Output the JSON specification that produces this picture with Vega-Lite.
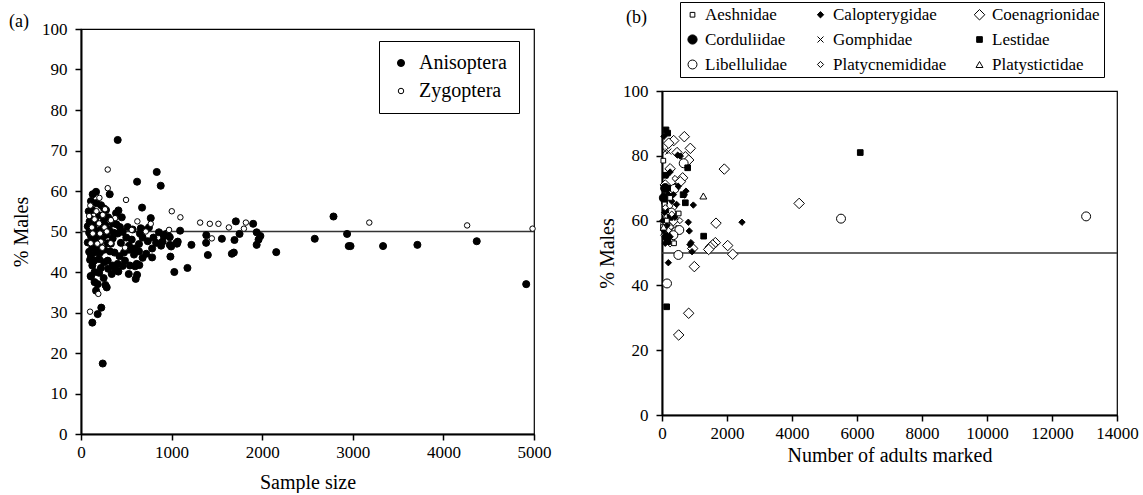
{
  "$schema": "https://vega.github.io/schema/vega-lite/v6.json",
  "background": "white",
  "padding": {"left": 8, "top": 0, "right": 2, "bottom": 0},
  "spacing": 44,
  "resolve": {
    "scale": {"fill": "independent", "size": "independent", "shape": "independent", "stroke": "independent"},
    "legend": {"fill": "independent", "size": "independent", "shape": "independent", "stroke": "independent"}
  },
  "config": {
    "font": "Liberation Serif",
    "view": {"stroke": "black", "strokeWidth": 1.2},
    "axis": {
      "labelFont": "Liberation Serif", "labelFontSize": 17, "labelColor": "black",
      "titleFont": "Liberation Serif", "titleFontSize": 20, "titleFontWeight": "normal", "titleColor": "black",
      "domainColor": "black", "domainWidth": 2, "tickColor": "black", "tickWidth": 1.5, "tickSize": 6,
      "grid": false, "labelFlush": false, "labelOverlap": false
    },
    "axisX": {"labelPadding": 4},
    "axisY": {"labelPadding": 8, "titlePadding": 10},
    "legend": {"labelFont": "Liberation Serif", "labelColor": "black", "strokeColor": "black", "fillColor": "white", "symbolStrokeWidth": 1},
    "title": {"font": "Liberation Serif", "fontSize": 18, "fontWeight": "normal", "color": "black"}
  },
  "hconcat": [
    {
      "width": 453,
      "height": 405,
      "title": {"text": "(a)", "anchor": "start", "frame": "group", "dx": -72, "dy": 8, "offset": -3},
      "layer": [
        {
          "data": {"values": [{"ref": 50}]},
          "mark": {"type": "rule", "color": "#333333", "strokeWidth": 1.5},
          "encoding": {
            "y": {"field": "ref", "type": "quantitative", "title": "% Males", "scale": {"domain": [0, 100]}}
          }
        },
        {
          "data": {"values": [
            {"n":1030,"m":40.0,"g":"Anisoptera"},{"n":1175,"m":41.0,"g":"Anisoptera"},{"n":1219,"m":46.7,"g":"Anisoptera"},{"n":1383,"m":49.1,"g":"Anisoptera"},{"n":1381,"m":47.2,"g":"Anisoptera"},{"n":1400,"m":44.2,"g":"Anisoptera"},{"n":1555,"m":48.2,"g":"Anisoptera"},{"n":1694,"m":47.9,"g":"Anisoptera"},{"n":1687,"m":44.8,"g":"Anisoptera"},{"n":1665,"m":44.5,"g":"Anisoptera"},{"n":1750,"m":49.4,"g":"Anisoptera"},{"n":1709,"m":52.5,"g":"Anisoptera"},{"n":1900,"m":51.9,"g":"Anisoptera"},{"n":1939,"m":49.8,"g":"Anisoptera"},{"n":1980,"m":48.9,"g":"Anisoptera"},{"n":1960,"m":48.0,"g":"Anisoptera"},{"n":1939,"m":46.7,"g":"Anisoptera"},{"n":2155,"m":44.9,"g":"Anisoptera"},{"n":2580,"m":48.2,"g":"Anisoptera"},{"n":2787,"m":53.7,"g":"Anisoptera"},{"n":2937,"m":49.4,"g":"Anisoptera"},{"n":2955,"m":46.4,"g":"Anisoptera"},{"n":2975,"m":46.4,"g":"Anisoptera"},{"n":3334,"m":46.4,"g":"Anisoptera"},{"n":3713,"m":46.7,"g":"Anisoptera"},{"n":4368,"m":47.6,"g":"Anisoptera"},{"n":4914,"m":37.0,"g":"Anisoptera"},{"n":1068,"m":47.5,"g":"Anisoptera"},{"n":1094,"m":50.2,"g":"Anisoptera"},{"n":1060,"m":47.0,"g":"Anisoptera"},{"n":995,"m":46.3,"g":"Anisoptera"},{"n":1050,"m":47.1,"g":"Anisoptera"},
            {"n":836,"m":64.7,"g":"Anisoptera"},{"n":619,"m":62.3,"g":"Anisoptera"},{"n":880,"m":61.3,"g":"Anisoptera"},{"n":674,"m":55.9,"g":"Anisoptera"},{"n":770,"m":53.3,"g":"Anisoptera"},{"n":980,"m":46.7,"g":"Anisoptera"},{"n":987,"m":43.8,"g":"Anisoptera"},{"n":785,"m":45.8,"g":"Anisoptera"},{"n":785,"m":43.6,"g":"Anisoptera"},{"n":619,"m":39.3,"g":"Anisoptera"},{"n":604,"m":38.3,"g":"Anisoptera"},{"n":597,"m":41.4,"g":"Anisoptera"},{"n":644,"m":41.7,"g":"Anisoptera"},{"n":914,"m":48.9,"g":"Anisoptera"},{"n":940,"m":49.4,"g":"Anisoptera"},{"n":980,"m":48.6,"g":"Anisoptera"},{"n":884,"m":46.5,"g":"Anisoptera"},{"n":829,"m":47.2,"g":"Anisoptera"},{"n":800,"m":48.5,"g":"Anisoptera"},{"n":737,"m":47.6,"g":"Anisoptera"},{"n":680,"m":48.5,"g":"Anisoptera"},{"n":640,"m":46.9,"g":"Anisoptera"},{"n":640,"m":45.1,"g":"Anisoptera"},{"n":615,"m":42.0,"g":"Anisoptera"},{"n":700,"m":50.3,"g":"Anisoptera"},{"n":750,"m":51.0,"g":"Anisoptera"},{"n":660,"m":50.8,"g":"Anisoptera"},{"n":860,"m":49.8,"g":"Anisoptera"},{"n":960,"m":49.1,"g":"Anisoptera"},{"n":900,"m":47.5,"g":"Anisoptera"},{"n":720,"m":44.5,"g":"Anisoptera"},{"n":680,"m":43.5,"g":"Anisoptera"},{"n":650,"m":49.5,"g":"Anisoptera"},
            {"n":405,"m":72.6,"g":"Anisoptera"},{"n":166,"m":59.8,"g":"Anisoptera"},{"n":129,"m":59.2,"g":"Anisoptera"},{"n":317,"m":59.2,"g":"Anisoptera"},{"n":221,"m":56.5,"g":"Anisoptera"},{"n":413,"m":55.2,"g":"Anisoptera"},{"n":387,"m":54.5,"g":"Anisoptera"},{"n":276,"m":55.3,"g":"Anisoptera"},{"n":125,"m":55.3,"g":"Anisoptera"},{"n":254,"m":55.7,"g":"Anisoptera"},{"n":339,"m":39.5,"g":"Anisoptera"},{"n":250,"m":38.5,"g":"Anisoptera"},{"n":110,"m":38.9,"g":"Anisoptera"},{"n":125,"m":27.5,"g":"Anisoptera"},{"n":184,"m":29.6,"g":"Anisoptera"},{"n":224,"m":31.2,"g":"Anisoptera"},{"n":166,"m":35.4,"g":"Anisoptera"},{"n":184,"m":37.0,"g":"Anisoptera"},{"n":269,"m":36.8,"g":"Anisoptera"},{"n":284,"m":36.2,"g":"Anisoptera"},{"n":240,"m":17.4,"g":"Anisoptera"},{"n":107,"m":39.0,"g":"Anisoptera"},{"n":412,"m":40.1,"g":"Anisoptera"},{"n":527,"m":39.5,"g":"Anisoptera"},{"n":589,"m":45.8,"g":"Anisoptera"},{"n":530,"m":46.5,"g":"Anisoptera"},{"n":500,"m":48.5,"g":"Anisoptera"},{"n":460,"m":49.9,"g":"Anisoptera"},{"n":515,"m":51.1,"g":"Anisoptera"},{"n":430,"m":51.1,"g":"Anisoptera"},{"n":405,"m":49.5,"g":"Anisoptera"},{"n":350,"m":48.3,"g":"Anisoptera"},{"n":295,"m":47.1,"g":"Anisoptera"},{"n":240,"m":48.5,"g":"Anisoptera"},{"n":210,"m":47.3,"g":"Anisoptera"},{"n":160,"m":48.5,"g":"Anisoptera"},{"n":110,"m":48.9,"g":"Anisoptera"},{"n":125,"m":46.1,"g":"Anisoptera"},{"n":160,"m":45.8,"g":"Anisoptera"},{"n":210,"m":44.8,"g":"Anisoptera"},{"n":255,"m":45.5,"g":"Anisoptera"},{"n":320,"m":45.1,"g":"Anisoptera"},{"n":370,"m":44.8,"g":"Anisoptera"},{"n":425,"m":43.9,"g":"Anisoptera"},{"n":475,"m":44.8,"g":"Anisoptera"},{"n":530,"m":45.5,"g":"Anisoptera"},{"n":585,"m":44.3,"g":"Anisoptera"},{"n":110,"m":44.0,"g":"Anisoptera"},{"n":145,"m":42.8,"g":"Anisoptera"},{"n":200,"m":43.2,"g":"Anisoptera"},{"n":255,"m":42.4,"g":"Anisoptera"},{"n":295,"m":42.8,"g":"Anisoptera"},{"n":350,"m":41.6,"g":"Anisoptera"},{"n":405,"m":42.0,"g":"Anisoptera"},{"n":385,"m":40.5,"g":"Anisoptera"},{"n":485,"m":42.8,"g":"Anisoptera"},{"n":540,"m":41.6,"g":"Anisoptera"},{"n":125,"m":41.6,"g":"Anisoptera"},{"n":165,"m":44.8,"g":"Anisoptera"},{"n":75,"m":47.3,"g":"Anisoptera"},{"n":90,"m":49.7,"g":"Anisoptera"},{"n":75,"m":51.3,"g":"Anisoptera"},{"n":100,"m":50.5,"g":"Anisoptera"},{"n":140,"m":51.5,"g":"Anisoptera"},{"n":180,"m":50.2,"g":"Anisoptera"},{"n":230,"m":50.8,"g":"Anisoptera"},{"n":270,"m":51.6,"g":"Anisoptera"},{"n":310,"m":50.4,"g":"Anisoptera"},{"n":360,"m":49.7,"g":"Anisoptera"},{"n":390,"m":51.8,"g":"Anisoptera"},{"n":120,"m":53.0,"g":"Anisoptera"},{"n":160,"m":52.5,"g":"Anisoptera"},{"n":200,"m":54.0,"g":"Anisoptera"},{"n":300,"m":53.5,"g":"Anisoptera"},{"n":350,"m":52.0,"g":"Anisoptera"},{"n":450,"m":53.5,"g":"Anisoptera"},{"n":90,"m":45.0,"g":"Anisoptera"},{"n":100,"m":43.0,"g":"Anisoptera"},{"n":140,"m":47.5,"g":"Anisoptera"},{"n":190,"m":46.5,"g":"Anisoptera"},{"n":280,"m":49.2,"g":"Anisoptera"},{"n":330,"m":47.0,"g":"Anisoptera"},{"n":440,"m":47.2,"g":"Anisoptera"},{"n":560,"m":48.0,"g":"Anisoptera"},{"n":570,"m":50.5,"g":"Anisoptera"},{"n":150,"m":40.0,"g":"Anisoptera"},{"n":200,"m":39.8,"g":"Anisoptera"},{"n":95,"m":52.5,"g":"Anisoptera"},{"n":85,"m":55.0,"g":"Anisoptera"},{"n":110,"m":57.5,"g":"Anisoptera"},{"n":170,"m":57.0,"g":"Anisoptera"},{"n":250,"m":52.5,"g":"Anisoptera"},{"n":220,"m":41.0,"g":"Anisoptera"},{"n":300,"m":40.8,"g":"Anisoptera"},{"n":460,"m":41.5,"g":"Anisoptera"},{"n":150,"m":37.5,"g":"Anisoptera"},
            {"n":295,"m":65.3,"g":"Zygoptera"},{"n":295,"m":60.7,"g":"Zygoptera"},{"n":203,"m":58.3,"g":"Zygoptera"},{"n":497,"m":57.8,"g":"Zygoptera"},{"n":103,"m":56.4,"g":"Zygoptera"},{"n":240,"m":54.1,"g":"Zygoptera"},{"n":1002,"m":55.0,"g":"Zygoptera"},{"n":1097,"m":53.5,"g":"Zygoptera"},{"n":622,"m":52.5,"g":"Zygoptera"},{"n":770,"m":51.9,"g":"Zygoptera"},{"n":376,"m":53.3,"g":"Zygoptera"},{"n":1315,"m":52.2,"g":"Zygoptera"},{"n":1422,"m":51.9,"g":"Zygoptera"},{"n":1517,"m":51.9,"g":"Zygoptera"},{"n":1632,"m":51.0,"g":"Zygoptera"},{"n":1820,"m":52.2,"g":"Zygoptera"},{"n":1798,"m":50.7,"g":"Zygoptera"},{"n":1444,"m":48.3,"g":"Zygoptera"},{"n":3182,"m":52.2,"g":"Zygoptera"},{"n":4262,"m":51.5,"g":"Zygoptera"},{"n":4984,"m":50.7,"g":"Zygoptera"},{"n":100,"m":30.2,"g":"Zygoptera"},{"n":191,"m":34.6,"g":"Zygoptera"},{"n":107,"m":47.1,"g":"Zygoptera"},{"n":218,"m":47.5,"g":"Zygoptera"},{"n":235,"m":46.0,"g":"Zygoptera"},{"n":328,"m":47.1,"g":"Zygoptera"},{"n":486,"m":46.0,"g":"Zygoptera"},{"n":715,"m":50.0,"g":"Zygoptera"},{"n":972,"m":50.4,"g":"Zygoptera"},{"n":150,"m":53.0,"g":"Zygoptera"},{"n":200,"m":52.0,"g":"Zygoptera"},{"n":260,"m":51.0,"g":"Zygoptera"},{"n":120,"m":51.0,"g":"Zygoptera"},{"n":170,"m":55.0,"g":"Zygoptera"},{"n":265,"m":55.5,"g":"Zygoptera"},{"n":210,"m":49.5,"g":"Zygoptera"},{"n":130,"m":49.5,"g":"Zygoptera"},{"n":330,"m":52.8,"g":"Zygoptera"},{"n":560,"m":50.4,"g":"Zygoptera"},{"n":90,"m":53.8,"g":"Zygoptera"},{"n":180,"m":47.0,"g":"Zygoptera"},{"n":285,"m":50.0,"g":"Zygoptera"}
          ]},
          "mark": {"type": "point", "shape": "circle", "filled": true, "strokeWidth": 1, "opacity": 1},
          "encoding": {
            "x": {"field": "n", "type": "quantitative", "title": "Sample size",
                  "scale": {"domain": [0, 5000], "nice": false},
                  "axis": {"values": [0, 1000, 2000, 3000, 4000, 5000], "format": "d", "titlePadding": 12}},
            "y": {"field": "m", "type": "quantitative", "title": "% Males",
                  "scale": {"domain": [0, 100]},
                  "axis": {"values": [0, 10, 20, 30, 40, 50, 60, 70, 80, 90, 100]}},
            "fill": {"field": "g", "type": "nominal",
                     "scale": {"domain": ["Anisoptera", "Zygoptera"], "range": ["black", "white"]},
                     "legend": {"title": null, "orient": "none", "legendX": 298, "legendY": 12, "labelFontSize": 20, "padding": 12, "rowPadding": 8, "labelOffset": 8, "strokeColor": "black"}},
            "stroke": {"field": "g", "type": "nominal",
                       "scale": {"domain": ["Anisoptera", "Zygoptera"], "range": ["black", "black"]}},
            "size": {"field": "g", "type": "nominal",
                     "scale": {"type": "ordinal", "domain": ["Anisoptera", "Zygoptera"], "range": [50, 30]}}
          }
        }
      ]
    },
    {
      "spacing": 2,
      "bounds": "flush",
      "resolve": {
        "scale": {"fill": "independent", "size": "independent", "shape": "independent", "stroke": "independent"},
        "legend": {"fill": "independent", "size": "independent", "shape": "independent", "stroke": "independent"}
      },
      "vconcat": [
        {
          "width": 455,
          "height": 60,
          "view": {"stroke": null, "fill": null},
          "title": {"text": "(b)", "anchor": "start", "frame": "group", "dx": -36, "offset": 2},
          "data": {"values": [{"ref": 50}]},
          "mark": {"type": "point", "opacity": 0},
          "encoding": {}
        },
        {
          "width": 455,
          "height": 324,
          "layer": [
            {
              "data": {"values": [{"ref": 50}]},
              "mark": {"type": "rule", "color": "#333333", "strokeWidth": 1.5},
              "encoding": {
                "y": {"field": "ref", "type": "quantitative", "title": "% Males", "scale": {"domain": [0, 100]}}
              }
            },
            {
              "data": {"values": [
                {"n":687,"m":85.9,"f":"Coenagrionidae"},{"n":360,"m":84.7,"f":"Coenagrionidae"},{"n":206,"m":83.9,"f":"Coenagrionidae"},{"n":871,"m":82.3,"f":"Coenagrionidae"},{"n":462,"m":81.0,"f":"Coenagrionidae"},{"n":718,"m":79.7,"f":"Coenagrionidae"},{"n":821,"m":78.7,"f":"Coenagrionidae"},{"n":1917,"m":75.9,"f":"Coenagrionidae"},{"n":636,"m":73.2,"f":"Coenagrionidae"},{"n":564,"m":72.0,"f":"Coenagrionidae"},{"n":400,"m":70.0,"f":"Coenagrionidae"},{"n":4220,"m":65.3,"f":"Coenagrionidae"},{"n":1662,"m":59.2,"f":"Coenagrionidae"},{"n":2021,"m":52.3,"f":"Coenagrionidae"},{"n":2175,"m":49.6,"f":"Coenagrionidae"},{"n":1641,"m":53.2,"f":"Coenagrionidae"},{"n":1559,"m":52.5,"f":"Coenagrionidae"},{"n":1487,"m":51.8,"f":"Coenagrionidae"},{"n":1436,"m":51.1,"f":"Coenagrionidae"},{"n":944,"m":51.4,"f":"Coenagrionidae"},{"n":995,"m":45.8,"f":"Coenagrionidae"},{"n":821,"m":31.4,"f":"Coenagrionidae"},{"n":513,"m":24.7,"f":"Coenagrionidae"},{"n":250,"m":53.5,"f":"Coenagrionidae"},{"n":150,"m":62.0,"f":"Coenagrionidae"},{"n":300,"m":64.0,"f":"Coenagrionidae"},{"n":200,"m":58.0,"f":"Coenagrionidae"},{"n":350,"m":60.0,"f":"Coenagrionidae"},{"n":450,"m":57.0,"f":"Coenagrionidae"},{"n":100,"m":71.0,"f":"Coenagrionidae"},{"n":150,"m":66.0,"f":"Coenagrionidae"},{"n":250,"m":76.0,"f":"Coenagrionidae"},{"n":120,"m":55.5,"f":"Coenagrionidae"},
                {"n":667,"m":77.7,"f":"Libellulidae"},{"n":380,"m":69.8,"f":"Libellulidae"},{"n":280,"m":62.5,"f":"Libellulidae"},{"n":533,"m":57.1,"f":"Libellulidae"},{"n":503,"m":49.4,"f":"Libellulidae"},{"n":154,"m":40.6,"f":"Libellulidae"},{"n":5508,"m":60.6,"f":"Libellulidae"},{"n":13050,"m":61.3,"f":"Libellulidae"},{"n":200,"m":65.0,"f":"Libellulidae"},{"n":100,"m":59.0,"f":"Libellulidae"},{"n":350,"m":55.5,"f":"Libellulidae"},
                {"n":100,"m":70.0,"f":"Corduliidae"},{"n":150,"m":55.0,"f":"Corduliidae"},{"n":60,"m":67.0,"f":"Corduliidae"},
                {"n":60,"m":86.0,"f":"Calopterygidae"},{"n":564,"m":79.9,"f":"Calopterygidae"},{"n":483,"m":80.2,"f":"Calopterygidae"},{"n":150,"m":74.0,"f":"Calopterygidae"},{"n":500,"m":70.6,"f":"Calopterygidae"},{"n":738,"m":69.1,"f":"Calopterygidae"},{"n":687,"m":67.9,"f":"Calopterygidae"},{"n":964,"m":64.8,"f":"Calopterygidae"},{"n":2462,"m":59.5,"f":"Calopterygidae"},{"n":810,"m":59.5,"f":"Calopterygidae"},{"n":840,"m":56.8,"f":"Calopterygidae"},{"n":892,"m":53.2,"f":"Calopterygidae"},{"n":923,"m":50.4,"f":"Calopterygidae"},{"n":195,"m":47.0,"f":"Calopterygidae"},{"n":100,"m":53.0,"f":"Calopterygidae"},{"n":860,"m":52.6,"f":"Calopterygidae"},{"n":250,"m":75.0,"f":"Calopterygidae"},{"n":200,"m":68.0,"f":"Calopterygidae"},{"n":120,"m":63.0,"f":"Calopterygidae"},{"n":300,"m":66.0,"f":"Calopterygidae"},{"n":400,"m":61.0,"f":"Calopterygidae"},{"n":150,"m":58.5,"f":"Calopterygidae"},{"n":50,"m":57.0,"f":"Calopterygidae"},{"n":350,"m":68.0,"f":"Calopterygidae"},{"n":450,"m":65.0,"f":"Calopterygidae"},{"n":30,"m":60.0,"f":"Calopterygidae"},{"n":80,"m":62.5,"f":"Calopterygidae"},{"n":250,"m":55.0,"f":"Calopterygidae"},
                {"n":123,"m":88.0,"f":"Lestidae"},{"n":175,"m":87.0,"f":"Lestidae"},{"n":790,"m":76.3,"f":"Lestidae"},{"n":175,"m":70.0,"f":"Lestidae"},{"n":650,"m":68.0,"f":"Lestidae"},{"n":718,"m":65.5,"f":"Lestidae"},{"n":1282,"m":55.2,"f":"Lestidae"},{"n":144,"m":33.4,"f":"Lestidae"},{"n":175,"m":53.5,"f":"Lestidae"},{"n":6100,"m":81.0,"f":"Lestidae"},{"n":100,"m":74.0,"f":"Lestidae"},{"n":250,"m":61.0,"f":"Lestidae"},{"n":80,"m":66.0,"f":"Lestidae"},
                {"n":40,"m":78.5,"f":"Aeshnidae"},{"n":370,"m":53.0,"f":"Aeshnidae"},{"n":513,"m":62.2,"f":"Aeshnidae"},{"n":150,"m":60.0,"f":"Aeshnidae"},{"n":250,"m":67.0,"f":"Aeshnidae"},{"n":30,"m":58.0,"f":"Aeshnidae"},{"n":80,"m":65.0,"f":"Aeshnidae"},
                {"n":195,"m":81.3,"f":"Gomphidae"},{"n":100,"m":81.5,"f":"Gomphidae"},{"n":150,"m":63.0,"f":"Gomphidae"},
                {"n":300,"m":62.0,"f":"Platycnemididae"},{"n":200,"m":57.0,"f":"Platycnemididae"},{"n":400,"m":73.0,"f":"Platycnemididae"},{"n":550,"m":60.0,"f":"Platycnemididae"},{"n":100,"m":64.0,"f":"Platycnemididae"},
                {"n":1272,"m":67.6,"f":"Platystictidae"},{"n":50,"m":58.0,"f":"Platystictidae"}
              ]},
              "mark": {"type": "point", "filled": true, "strokeWidth": 1, "opacity": 1},
              "encoding": {
                "x": {"field": "n", "type": "quantitative", "title": "Number of adults marked",
                      "scale": {"domain": [0, 14000], "nice": false},
                      "axis": {"values": [0, 2000, 4000, 6000, 8000, 10000, 12000, 14000], "format": "d", "titlePadding": 4}},
                "y": {"field": "m", "type": "quantitative", "title": "% Males",
                      "scale": {"domain": [0, 100]},
                      "axis": {"values": [0, 10, 20, 30, 40, 50, 60, 70, 80, 90, 100], "titlePadding": 5}},
                "shape": {"field": "f", "type": "nominal",
                          "scale": {"domain": ["Aeshnidae", "Calopterygidae", "Coenagrionidae", "Corduliidae", "Gomphidae", "Lestidae", "Libellulidae", "Platycnemididae", "Platystictidae"],
                                    "range": ["square", "diamond", "diamond", "circle", "M-1,-1L1,1M-1,1L1,-1", "square", "circle", "diamond", "triangle-up"]},
                          "legend": {"title": null, "orient": "none", "legendX": 18, "legendY": -89, "columns": 3, "direction": "horizontal", "labelFontSize": 17, "padding": 4, "rowPadding": 7, "columnPadding": 24, "labelOffset": 4, "strokeColor": "black"}},
                "fill": {"field": "f", "type": "nominal",
                         "scale": {"domain": ["Aeshnidae", "Calopterygidae", "Coenagrionidae", "Corduliidae", "Gomphidae", "Lestidae", "Libellulidae", "Platycnemididae", "Platystictidae"],
                                   "range": ["white", "black", "white", "black", "white", "black", "white", "white", "white"]}},
                "stroke": {"field": "f", "type": "nominal",
                           "scale": {"domain": ["Aeshnidae", "Calopterygidae", "Coenagrionidae", "Corduliidae", "Gomphidae", "Lestidae", "Libellulidae", "Platycnemididae", "Platystictidae"],
                                     "range": ["black", "black", "black", "black", "black", "black", "black", "black", "black"]}},
                "size": {"field": "f", "type": "nominal",
                         "scale": {"type": "ordinal", "domain": ["Aeshnidae", "Calopterygidae", "Coenagrionidae", "Corduliidae", "Gomphidae", "Lestidae", "Libellulidae", "Platycnemididae", "Platystictidae"],
                                   "range": [22, 40, 110, 85, 36, 32, 80, 38, 48]}}
              }
            }
          ]
        }
      ]
    }
  ]
}
